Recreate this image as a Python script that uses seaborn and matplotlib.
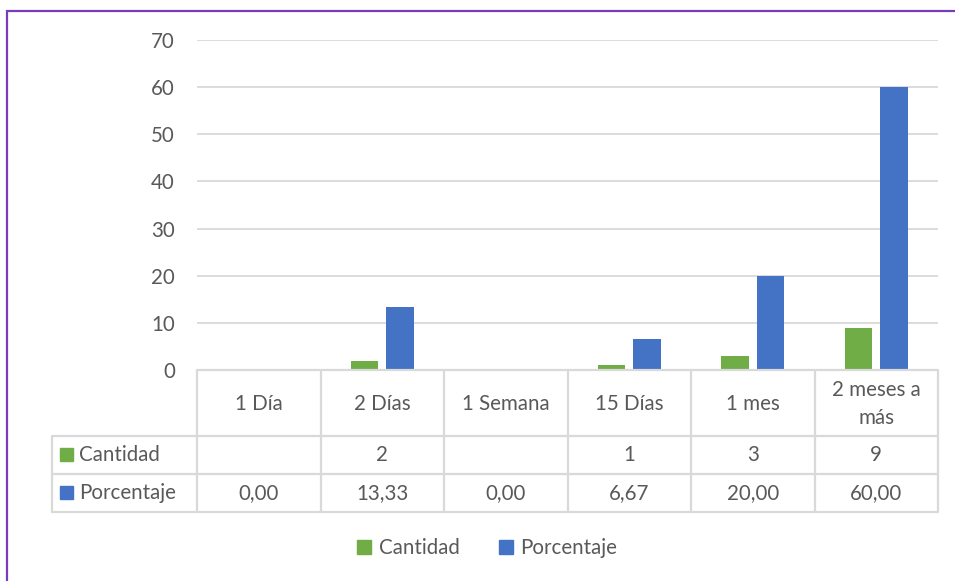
import numpy as np
import pandas as pd
import matplotlib
matplotlib.use("Agg")
import matplotlib.pyplot as plt
import matplotlib.transforms as mtransforms
from matplotlib.patches import Patch, Rectangle
import seaborn as sns

# ---- data ----
categorias = ["1 Día", "2 Días", "1 Semana", "15 Días", "1 mes", "2 meses a\nmás"]
cantidad = [np.nan, 2, np.nan, 1, 3, 9]
porcentaje = [0.00, 13.33, 0.00, 6.67, 20.00, 60.00]
series = ["Cantidad", "Porcentaje"]
colores = {"Cantidad": "#70AD47", "Porcentaje": "#4472C4"}
yticks = [0, 10, 20, 30, 40, 50, 60, 70]

df = pd.DataFrame({
    "cat": categorias * 2,
    "serie": ["Cantidad"] * 6 + ["Porcentaje"] * 6,
    "val": list(cantidad) + list(porcentaje),
})

sns.set_style("white")
plt.rcParams["font.family"] = ["Lato", "DejaVu Sans"]
TXT = "#595959"
GRID = "#D9D9D9"
FS = 14.8

W, H = 955, 581
fig = plt.figure(figsize=(W / 100, H / 100), dpi=100)
overlay = fig.add_axes([0, 0, 1, 1], zorder=3)
overlay.set_xlim(0, W)
overlay.set_ylim(H, 0)
overlay.axis("off")
overlay.patch.set_alpha(0)

ax = fig.add_axes([197 / W, (H - 370) / H, 741 / W, 330 / H], zorder=1)
sns.barplot(data=df, x="cat", y="val", hue="serie", palette=colores,
            order=categorias, hue_order=series, width=0.58, gap=0.23,
            saturation=1, linewidth=0, ax=ax, legend=False, zorder=3)
ax.set_xlim(-0.5, len(categorias) - 0.5)
ax.set_ylim(0, 70)
ax.set_yticks(yticks)
ax.set_yticklabels([str(v) for v in yticks], fontsize=FS, color=TXT)
ax.tick_params(axis="y", length=0, pad=16)
ax.tick_params(axis="x", length=0, labelbottom=False)
ax.set_xlabel("")
ax.set_ylabel("")
ax.grid(axis="y", color=GRID, linewidth=1.3, zorder=0)
ax.set_axisbelow(True)
for s in ax.spines.values():
    s.set_visible(False)

# ---- data table below the plot ----
blend = mtransforms.blended_transform_factory(ax.transData, overlay.transData)
y_top, y_r1, y_r2, y_bot = 370, 436, 474, 512
x_left, x_right = 52, 938
lw = 1.6
for b in np.arange(-0.5, len(categorias)):
    overlay.plot([b, b], [y_top, y_bot], transform=blend, color=GRID, lw=lw,
                 solid_capstyle="butt")
overlay.plot([197, x_right], [y_top, y_top], color=GRID, lw=lw)
for yy in (y_r1, y_r2, y_bot):
    overlay.plot([x_left, x_right], [yy, yy], color=GRID, lw=lw)
overlay.plot([x_left, x_left], [y_r1, y_bot], color=GRID, lw=lw)

for i, c in enumerate(categorias):
    overlay.text(i, 404, c, transform=blend, ha="center", va="center",
                 fontsize=FS, color=TXT, linespacing=1.5)
    cv = cantidad[i]
    overlay.text(i, 455, "" if np.isnan(cv) else f"{cv:.0f}", transform=blend,
                 ha="center", va="center", fontsize=FS, color=TXT)
    overlay.text(i, 493, f"{porcentaje[i]:.2f}".replace(".", ","), transform=blend,
                 ha="center", va="center", fontsize=FS, color=TXT)

for yy, s in ((455, "Cantidad"), (493, "Porcentaje")):
    overlay.add_patch(Rectangle((60, yy - 7), 13, 13, color=colores[s]))
    overlay.text(79, yy, s, ha="left", va="center", fontsize=FS, color=TXT)

# ---- legend ----
handles = [Patch(color=colores[s]) for s in series]
fig.legend(handles, series, loc="center", bbox_to_anchor=(487 / W, 1 - 548 / H),
           ncol=2, frameon=False, handlelength=0.7, handleheight=0.7,
           handletextpad=0.35, columnspacing=1.9, fontsize=FS, labelcolor=TXT)

# ---- purple frame (top and left) ----
PUR = "#7A3DB8"
overlay.plot([6, W], [10.5, 10.5], color=PUR, lw=1.6, solid_capstyle="butt")
overlay.plot([6.5, 6.5], [10, H], color=PUR, lw=1.6, solid_capstyle="butt")

fig.savefig("out.png", dpi=100)
